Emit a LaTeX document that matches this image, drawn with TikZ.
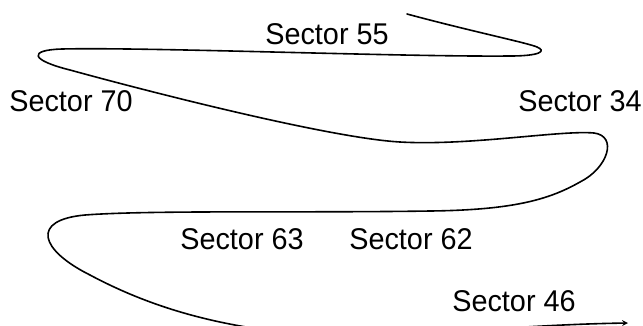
\documentclass[tikz,border=0pt]{standalone}
\usepackage{fontspec}
\setmainfont{Liberation Sans}
\begin{document}
\begin{tikzpicture}[x=1pt, y=-1pt, line cap=round, line join=round, >=stealth, font=\fontsize{30}{35}\selectfont]
			\tikzset{sector/.style={inner sep=0pt, xscale=0.96}}
			\useasboundingbox (0,0) rectangle (643,325);
			\clip (0,0) rectangle (643,325);
			\node[sector] (s55) at (327,34) {Sector 55};
			\node[sector] (s70) at (71,101) {Sector 70};
			\node[sector] (s34) at (580,101) {Sector 34};
			\node[sector] (s63) at (242,239) {Sector 63};
			\node[sector] (s62) at (411,239) {Sector 62};
			\node[sector] (s46) at (514,301) {Sector 46};
			\coordinate (start) at (407,14);
			\coordinate (end) at (628,323);
			\draw[->, line width=1.6pt] (start)
			.. controls (470,31) and (528,43) .. (537,47)
			.. controls (547,51) and (540,56) .. (510,56)
			.. controls (400,57) and (150,47) .. (62,49)
			.. controls (28,50) and (30,60) .. (70,70)
			.. controls (150,92) and (330,138) .. (400,142)
			.. controls (470,146) and (560,130) .. (594,133)
			.. controls (618,136) and (608,168) .. (580,182)
			.. controls (550,199) and (515,210) .. (430,211)
			.. controls (300,213) and (150,210) .. (85,215)
			.. controls (30,220) and (40,250) .. (90,275)
			.. controls (150,307) and (215,326) .. (300,334)
			.. controls (400,340) and (500,325) .. (end);
		\end{tikzpicture}
\end{document}
